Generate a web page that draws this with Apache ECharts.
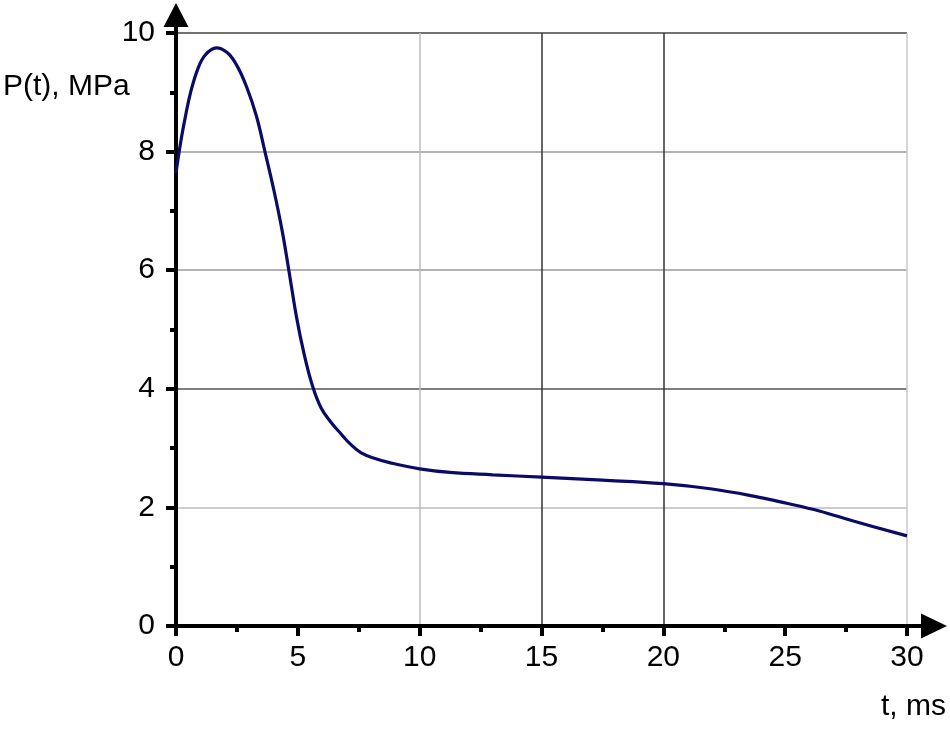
<!DOCTYPE html>
<html>
<head>
<meta charset="utf-8">
<title>P(t)</title>
<script src="https://cdn.jsdelivr.net/npm/echarts@6/dist/echarts.min.js"></script>
<style>
  html, body { margin: 0; padding: 0; background: #fff; }
  #chart { width: 950px; height: 732px; }
</style>
</head>
<body>
<div id="chart"></div>
<script>
// time, ms
var timeMs = [0, 0.2, 0.4, 0.6, 0.9, 1.2, 1.65, 2.1, 2.5, 2.9, 3.3, 3.65, 4.0, 4.35, 4.65, 4.95,
  5.25, 5.6, 5.95, 6.35, 6.75, 7.15, 7.6, 8.2, 8.8, 10, 11.25, 13, 15, 17.5, 20, 22, 23.7, 25.06, 26.4, 27.8, 30];
// pressure, MPa
var pressure = [7.64, 8.18, 8.62, 9.0, 9.4, 9.63, 9.75, 9.67, 9.45, 9.09, 8.6, 8.0, 7.38, 6.68, 5.95, 5.2,
  4.6, 4.05, 3.68, 3.44, 3.25, 3.07, 2.92, 2.82, 2.75, 2.65, 2.59, 2.55, 2.51, 2.46, 2.4, 2.31, 2.19, 2.07, 1.94, 1.77, 1.52];

// grid line shades (one per tick)
var xGridColors = ['#000', 'rgba(0,0,0,0)', '#bbb', '#333', '#333', 'rgba(0,0,0,0)', '#c8c8c8'];
var yGridColors = ['#000', '#bbb', '#555', '#999', '#999', '#444'];

var fontName = 'Liberation Sans';
var chart = echarts.init(document.getElementById('chart'));

var seriesData = timeMs.map(function (t, i) {
  return [t, pressure[i]];
});

var option = {
  animation: false,
  backgroundColor: '#fff',
  grid: { left: 176, right: 43, top: 33, bottom: 106 },
  xAxis: {
    type: 'value',
    min: 0,
    max: 30,
    interval: 5,
    axisLine: {
      lineStyle: { color: '#000', width: 4 },
      symbol: ['none', 'path://M12.5,0 L25,26 L14.5,26 L14.5,40 L10.5,40 L10.5,26 L0,26 Z'],
      symbolSize: [25, 40],
      symbolOffset: [0, 20]
    },
    axisTick: { inside: false, length: 10, lineStyle: { width: 4, color: '#000' } },
    minorTick: { show: true, splitNumber: 2, length: 6, lineStyle: { width: 4, color: '#000' } },
    axisLabel: { margin: 17, color: '#000', fontSize: 30, fontFamily: fontName },
    splitLine: { show: true, lineStyle: { color: xGridColors, width: 1.5 } }
  },
  yAxis: {
    type: 'value',
    min: 0,
    max: 10,
    interval: 2,
    axisLine: {
      lineStyle: { color: '#000', width: 4 },
      symbol: ['none', 'path://M12.5,0 L25,24 L14.5,24 L14.5,30 L10.5,30 L10.5,24 L0,24 Z'],
      symbolSize: [25, 30],
      symbolOffset: [0, 15]
    },
    axisTick: { inside: false, length: 10, lineStyle: { width: 4, color: '#000' } },
    minorTick: { show: true, splitNumber: 2, length: 6, lineStyle: { width: 4, color: '#000' } },
    axisLabel: { margin: 21, color: '#000', fontSize: 30, fontFamily: fontName },
    splitLine: { show: true, lineStyle: { color: yGridColors, width: 1.5 } }
  },
  graphic: [
    {
      type: 'text',
      left: 3,
      top: 72,
      style: { text: 'P(t), MPa', fill: '#000', font: '30px "' + fontName + '"' }
    },
    {
      type: 'text',
      right: 4,
      top: 692,
      style: { text: 't, ms', fill: '#000', font: '30px "' + fontName + '"' }
    }
  ],
  series: [
    {
      type: 'line',
      data: seriesData,
      showSymbol: false,
      smooth: 0.4,
      lineStyle: { color: '#0b0b66', width: 3.2 },
      z: 5
    }
  ]
};

chart.setOption(option);
</script>
</body>
</html>
